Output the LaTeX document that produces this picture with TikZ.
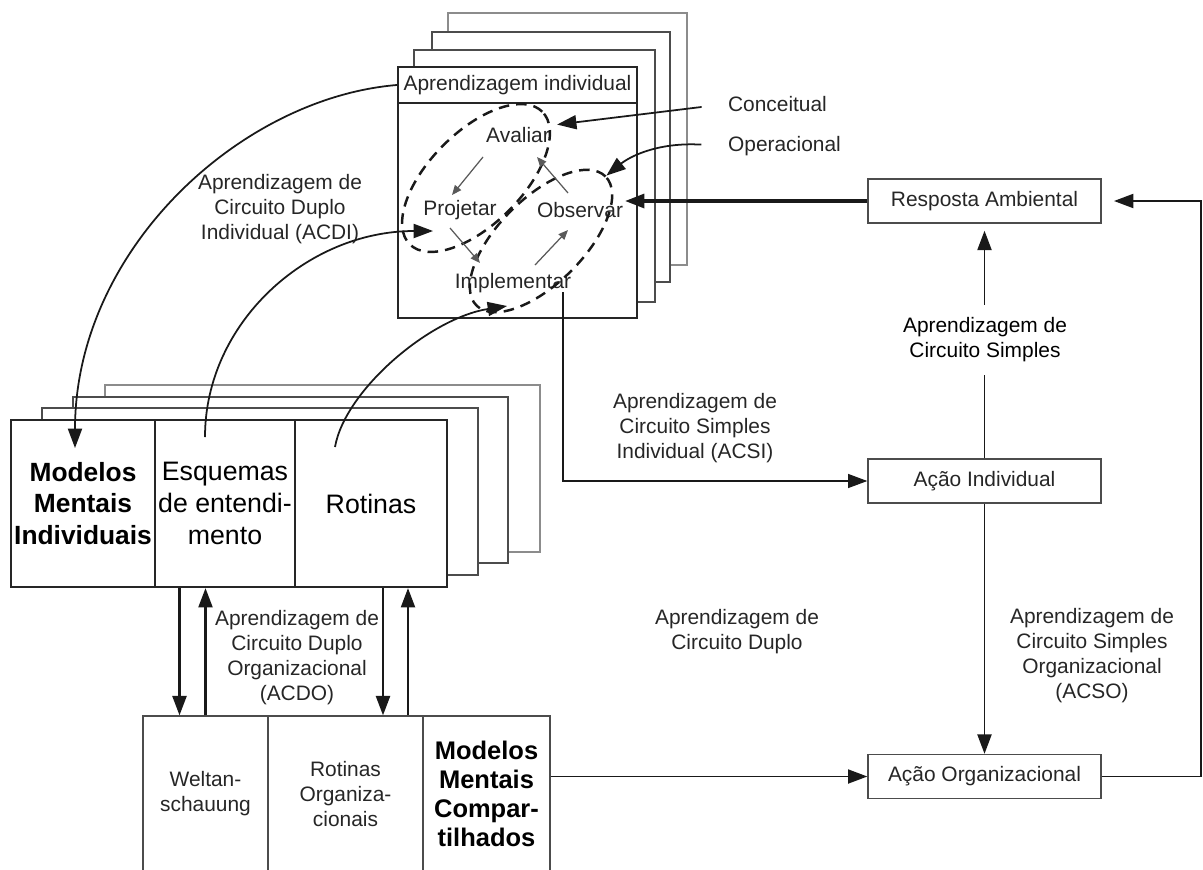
\documentclass[tikz,border=0pt]{standalone}
\usepackage{fontspec}
\setsansfont{Liberation Sans}
\usetikzlibrary{arrows.meta,calc,positioning,shapes.geometric}

\begin{document}
\begin{tikzpicture}[x=0.02cm, y=-0.02cm,
  txt/.style = {align=center, inner sep=1pt, text=black!85, font=\sffamily\fontsize{11.9}{14.2}\selectfont},
  bigtxt/.style = {font=\sffamily\fontsize{15.2}{18.1}\selectfont},
  stackbox/.style = {draw=black!85, line width=1.3pt, fill=white, inner sep=0pt, align=center},
  backbox/.style = {draw=black!70, line width=1.1pt, fill=white},
  flatbox/.style = {txt, draw=black!70, line width=0.8pt, fill=white},
  dashloop/.style = {ellipse, draw=black!90, line width=1.4pt, dash pattern=on 6pt off 4pt, rotate=45},
  conn/.style = {draw=black!90, line width=1pt},
  arr/.style = {conn, -{Triangle[length=11pt,width=8pt]}},
  thinarr/.style = {draw=black!65, line width=0.7pt, -{Triangle[length=5.5pt,width=4.5pt]}}]
\useasboundingbox (0,0) rectangle (1203,869);

% individual learning stack
\draw[backbox, draw=black!45] (448,13) rectangle (687,265);
\draw[backbox] (432,32) rectangle (670,282);
\draw[backbox] (414,50) rectangle (655,302);
\node[stackbox, minimum width=4.78cm, minimum height=5.02cm] (indiv) at (517.5,192.5) {};
\node[stackbox, txt, minimum width=4.78cm, minimum height=0.72cm] (hdr) at (517.5,85) {Aprendizagem individual};
\node[txt] (aval) at (518,135) {Avaliar};
\node[txt] (proj) at (460,210) {Projetar};
\node[txt] (obs) at (580,210) {Observar};
\node[txt] (impl) at (513,283) {Implementar};
\node[dashloop, minimum width=3.75cm, minimum height=1.85cm] (loopcp) at (476,178) {};
\node[dashloop, minimum width=3.65cm, minimum height=1.7cm] (loopop) at (541,241) {};
\draw[thinarr] ($(aval)+(-35,22)$) -- ($(proj)+(-8,-15)$);
\draw[thinarr] ($(obs)+(-12,-17)$) -- ($(aval)+(19,22)$);
\draw[thinarr] ($(proj)+(-10,18)$) -- ($(impl)+(-33,-20)$);
\draw[thinarr] ($(impl)+(22,-18)$) -- ($(obs)+(-12,20)$);

% individual mental models stack
\draw[backbox, draw=black!45] (105,385) rectangle (540,552);
\draw[backbox] (73,397) rectangle (508,563);
\draw[backbox] (42,408) rectangle (478,575);
\node[stackbox, font=\sffamily\bfseries\fontsize{15}{18.1}\selectfont, minimum width=2.88cm, minimum height=3.34cm] (modelos) at (83,503.5) {Modelos\\Mentais\\Individuais};
\node[stackbox, bigtxt, minimum width=2.8cm, minimum height=3.34cm] (esquemas) at (225,503.5) {Esquemas\\de entendi-\\mento};
\node[stackbox, bigtxt, minimum width=3.04cm, minimum height=3.34cm] (rotinas) at (371,503.5) {Rotinas};

% shared mental models
\node[flatbox, minimum width=2.5cm, minimum height=3.12cm] (welt) at (205.5,794) {Weltan-\\schauung};
\node[flatbox, minimum width=3.1cm, minimum height=3.12cm] (rotorg) at (345.5,794) {Rotinas\\Organiza-\\cionais};
\node[flatbox, font=\sffamily\bfseries\fontsize{14.5}{16.4}\selectfont, text=black, minimum width=2.54cm, minimum height=3.12cm] (mmc) at (486.5,794) {Modelos\\Mentais\\Compar-\\tilhados};

% actions
\node[flatbox, minimum width=4.66cm, minimum height=0.88cm] (resp) at (984.5,201) {Resposta Ambiental};
\node[flatbox, minimum width=4.66cm, minimum height=0.88cm] (acind) at (984.5,481) {Ação Individual};
\node[flatbox, minimum width=4.66cm, minimum height=0.88cm] (acorg) at (984.5,776.5) {Ação Organizacional};

% labels
\node[txt, anchor=west] (conc) at (726,104) {Conceitual};
\node[txt, anchor=west] (oper) at (726,146) {Operacional};
\node[txt] (lacdi) at (280,209) {Aprendizagem de\\Circuito Duplo\\Individual (ACDI)};
\node[txt] (lacsi) at (695,428) {Aprendizagem de\\Circuito Simples\\Individual (ACSI)};
\node[txt] (lacd) at (737,632) {Aprendizagem de\\Circuito Duplo};
\node[txt] (lacso) at (1092,656) {Aprendizagem de\\Circuito Simples\\Organizacional\\(ACSO)};
\node[txt] (lacdo) at (297,658) {Aprendizagem de\\Circuito Duplo\\Organizacional\\(ACDO)};

\coordinate (mmin) at (75,448);
\coordinate (esqout) at (205,437);
\coordinate (projin) at (433,231);
\coordinate (rotout) at (335,447);
\coordinate (implin) at (507,306);
\coordinate (implout) at (563,292);
\coordinate (rtcorner) at (1201,500);

% double loop curves
\draw[arr] (hdr.west) .. controls (240,98) and (75,250) .. (mmin);
\draw[arr] (esqout) .. controls (205,323) and (307,231) .. (projin);
\draw[arr] (rotout) .. controls (345,390) and (430,318) .. (implin);
\draw[arr, line width=1.2pt] ($(welt.north |- esquemas.south)+(-26,0)$) -- ($(welt.north)+(-26,0)$);
\draw[arr, line width=1.2pt] (welt.north) -- (welt.north |- esquemas.south);
\draw[arr, line width=1.2pt] ($(rotorg.north |- rotinas.south)+(37.5,0)$) -- ($(rotorg.north)+(37.5,0)$);
\draw[arr, line width=1.2pt] ($(rotorg.north)+(62.5,0)$) -- ($(rotorg.north |- rotinas.south)+(62.5,0)$);

% single loop
\draw[arr, line width=1.8pt] (resp.west) -- (resp.west -| obs.east);
\draw[arr, shorten <=14pt, shorten >=3pt] (conc.west) -- (aval.north east);
\draw[arr, shorten <=14pt] (oper.west) .. controls (655,142) and (628,158) .. (loopop.east);
\draw[arr, line width=0.7pt] (implout) |- (acind.west);
\draw[arr, shorten >=4pt] (acind) -- (resp);
\node[txt, text=black, fill=white, inner ysep=7pt] (lcs) at (985,340) {Aprendizagem de\\Circuito Simples};
\draw[arr] (acind) -- (acorg);
\draw[arr, shorten >=7pt] (acorg.east) -| (rtcorner) |- (resp.east);
\draw[arr] (mmc.east |- acorg.west) -- (acorg.west);
\end{tikzpicture}
\end{document}
